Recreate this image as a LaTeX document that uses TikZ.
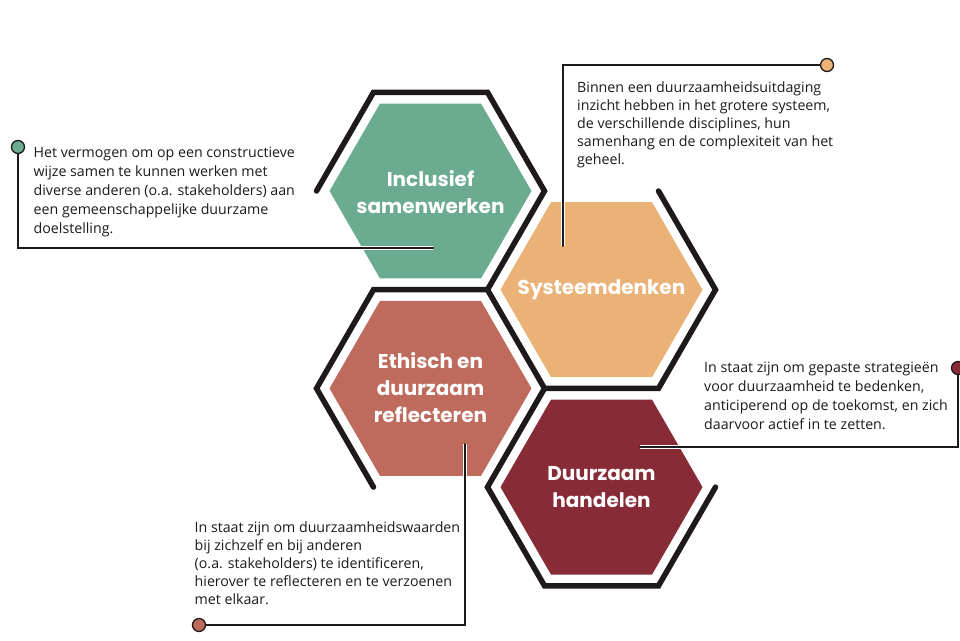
\documentclass[tikz,border=0pt]{standalone}
\usepackage{fontspec}
\setmainfont{Open Sans}
\newfontfamily\hexfont{Poppins}
\definecolor{cgreen}{HTML}{6BAB8F}
\definecolor{corange}{HTML}{EBB278}
\definecolor{cred}{HTML}{BE6A5D}
\definecolor{cmaroon}{HTML}{872B37}
\definecolor{ink}{HTML}{1E1A1B}
\pgfdeclarelayer{bg}
\pgfdeclarelayer{mid}
\pgfsetlayers{bg,mid,main}
\newcommand\hexat[3]{(#1-#3,#2) -- (#1-0.5*#3,#2-0.8660254*#3) -- (#1+0.5*#3,#2-0.8660254*#3) -- (#1+#3,#2) -- (#1+0.5*#3,#2+0.8660254*#3) -- (#1-0.5*#3,#2+0.8660254*#3) -- cycle}
\begin{document}
\begin{tikzpicture}[x=1pt,y=-1pt,
  frame/.style={draw=ink, line width=5.5pt, line join=miter, line cap=round},
  hexlabel/.style={text=white, font=\hexfont\bfseries\fontsize{20}{27}\selectfont, align=center, inner sep=0},
  desc/.style={text=ink, font=\fontsize{14.2}{#1}\selectfont, align=left, anchor=north west, inner sep=0},
  conn/.style={draw=ink, line width=2pt, line cap=round, line join=miter, preaction={draw=white, line width=4.4pt}},
  dot/.style={circle, draw=ink, line width=1.3pt, fill=#1, minimum size=13pt, inner sep=0}
]
\useasboundingbox (0,0) rectangle (960,640);
\begin{pgfonlayer}{bg}
\fill[white] (0,0) rectangle (960,640);
% hexagon fills
\fill[cgreen]  \hexat{430.5}{191}{101};
\fill[corange] \hexat{601.5}{289.7}{101};
\fill[cred]    \hexat{430.5}{388.4}{101};
\fill[cmaroon] \hexat{601.5}{487.1}{101};
% frames
\draw[frame] (316.5,191) -- (373.5,92.3) -- (487.5,92.3) -- (544.5,191) -- (487.5,289.7) -- (544.5,388.4) -- (658.5,388.4) -- (715.5,289.7) -- (658.5,191);
\draw[frame] (487.5,289.7) -- (373.5,289.7) -- (316.5,388.4) -- (373.5,487.1);
\draw[frame] (544.5,388.4) -- (487.5,487.1) -- (544.5,585.8) -- (658.5,585.8) -- (715.5,487.1);
\end{pgfonlayer}
% hexagon labels
\node[hexlabel] (lg) at (430.5,192.5) {Inclusief\\samenwerken};
\node[hexlabel] (lo) at (601.5,289.7) {Systeemdenken};
\node[hexlabel] (lr) at (430.5,387.5) {Ethisch en\\duurzaam\\reflecteren};
\node[hexlabel] (lm) at (601.5,487.5) {Duurzaam\\handelen};
% descriptions
\node[desc=19.2] (tg) at (33.5,146.5) {Het vermogen om op een constructieve\\wijze samen te kunnen werken met\\diverse anderen (o.a. stakeholders) aan\\een gemeenschappelijke duurzame\\doelstelling.};
\node[desc=18] (to) at (577,81.7) {Binnen een duurzaamheidsuitdaging\\inzicht hebben in het grotere systeem,\\de verschillende disciplines, hun\\samenhang en de complexiteit van het\\geheel.};
\node[desc=19.2] (tm) at (704,361.7) {In staat zijn om gepaste strategieën\\voor duurzaamheid te bedenken,\\anticiperend op de toekomst, en zich\\daarvoor actief in te zetten.};
\node[desc=18] (tr) at (194.5,521.2) {In staat zijn om duurzaamheidswaarden\\bij zichzelf en bij anderen\\(o.a. stakeholders) te identificeren,\\hierover te reflecteren en te verzoenen\\met elkaar.};
% dots
\node[dot=cgreen]  (dg) at (18,147) {};
\node[dot=corange] (do) at (827,65) {};
\node[dot=cmaroon] (dm) at (958,368) {};
\node[dot=cred]    (dr) at (199,625) {};
% connector ends
\coordinate (eg) at (433,248);
\coordinate (eo) at (563,246);
\coordinate (em) at (640,447);
\coordinate (er) at (465,444);
\begin{pgfonlayer}{mid}
\draw[conn] (dg.center) |- (eg);
\draw[conn] (do.center) -| (eo);
\draw[conn] (dm.center) |- (em);
\draw[conn] (dr.center) -| (er);
\end{pgfonlayer}
\end{tikzpicture}
\end{document}
